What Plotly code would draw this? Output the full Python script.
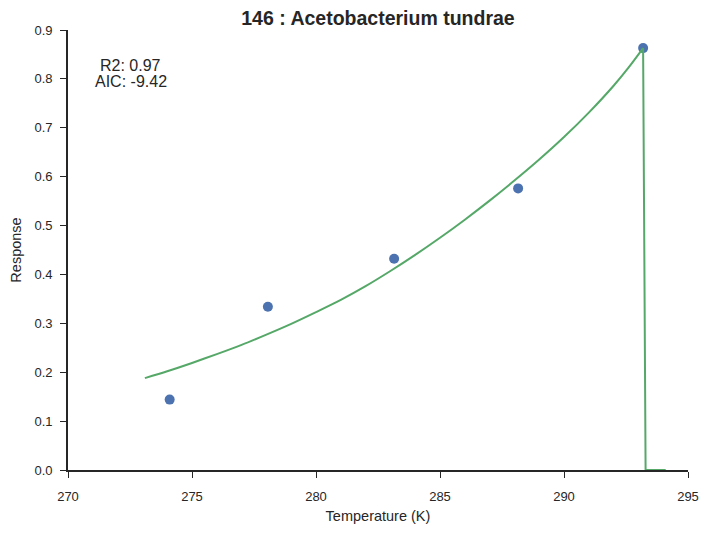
import plotly.graph_objects as go

# observed data points
temp_obs = [274.1, 278.06, 283.15, 288.15, 293.19]
resp_obs = [0.144, 0.334, 0.432, 0.576, 0.863]

# fitted model curve, rising part then the collapse to zero
temp_fit = [273.1, 274, 275, 276, 277, 278, 279, 280, 281, 282, 283, 284,
            285, 286, 287, 288, 289, 290, 291, 292, 292.6, 293.19]
resp_fit = [0.188, 0.202, 0.219, 0.237, 0.256, 0.277, 0.299, 0.323, 0.348,
            0.376, 0.407, 0.440, 0.475, 0.512, 0.551, 0.592, 0.635, 0.681,
            0.731, 0.786, 0.823, 0.863]
temp_drop = [293.19, 293.29, 294.1]
resp_drop = [0.863, 0.0, 0.0]

x_ticks = [270, 275, 280, 285, 290, 295]
y_ticks = [0.0, 0.1, 0.2, 0.3, 0.4, 0.5, 0.6, 0.7, 0.8, 0.9]

title = "146 : Acetobacterium tundrae"
stats_lines = ["R2: 0.97", "AIC: -9.42"]
stats_y = [0.828, 0.794]

FONT = "Liberation Sans, Arial"
INK = "#262626"
GREEN = "#55A868"

fig = go.Figure()

fig.add_trace(go.Scatter(
    x=temp_obs, y=resp_obs, mode="markers",
    marker=dict(color="#4C72B0", size=10),
    showlegend=False, cliponaxis=False
))

fig.add_trace(go.Scatter(
    x=temp_fit, y=resp_fit, mode="lines",
    line=dict(color=GREEN, width=2, shape="spline", smoothing=0.8),
    showlegend=False, cliponaxis=False
))
fig.add_trace(go.Scatter(
    x=temp_drop, y=resp_drop, mode="lines",
    line=dict(color=GREEN, width=2),
    showlegend=False, cliponaxis=False
))

# stats text, one annotation per line
for txt, yy in zip(stats_lines, stats_y):
    fig.add_annotation(
        x=272.53, y=yy, xref="x", yref="y",
        text=txt, showarrow=False, align="center",
        font=dict(family=FONT, size=16, color=INK)
    )

axis_common = dict(
    showgrid=False, zeroline=False, showline=True, automargin=False,
    linecolor=INK, linewidth=1.8,
    ticks="outside", ticklen=6, tickwidth=1.3, tickcolor=INK,
    tickfont=dict(family=FONT, size=13, color=INK),
)

# page body has an 8px margin, so the figure is 8px smaller than the window
fig.update_layout(
    width=702, height=525,
    margin=dict(l=60, r=22, t=22, b=63),
    plot_bgcolor="white", paper_bgcolor="white",
    title=dict(
        text="<b>" + title + "</b>", x=0.5, xref="paper", xanchor="center",
        y=1 - 10 / 525, yanchor="middle",
        font=dict(family=FONT, size=19.5, color=INK)
    ),
    xaxis=dict(
        range=[270, 295], tickvals=x_ticks, ticklabelstandoff=7,
        title=dict(text="Temperature (K)", standoff=8,
                   font=dict(family=FONT, size=14.5, color=INK)),
        **axis_common
    ),
    yaxis=dict(
        range=[0, 0.9], tickvals=y_ticks, tickformat=".1f", ticklabelstandoff=5,
        title=dict(text="Response", standoff=10,
                   font=dict(family=FONT, size=14.5, color=INK)),
        **axis_common
    ),
)

fig.write_html("out.html")
